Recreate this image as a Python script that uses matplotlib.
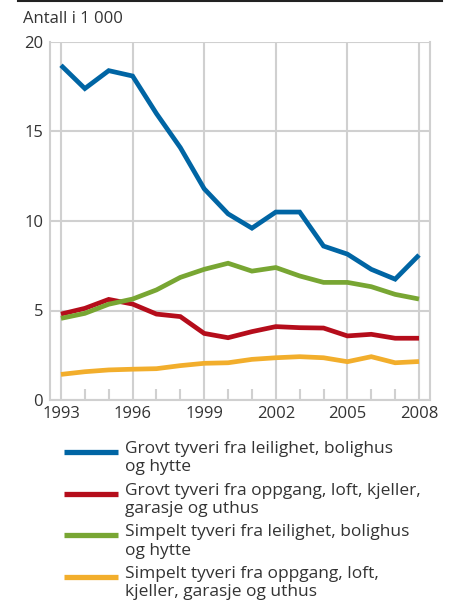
import matplotlib
matplotlib.use("Agg")
import matplotlib.pyplot as plt
from matplotlib.lines import Line2D

years = list(range(1993, 2009))

grovt_bolig = [18.7, 17.4, 18.4, 18.1, 16.0, 14.1, 11.8, 10.4, 9.6, 10.5, 10.5, 8.6, 8.15, 7.3, 6.75, 8.1]
grovt_oppgang = [4.8, 5.12, 5.62, 5.36, 4.8, 4.66, 3.72, 3.48, 3.82, 4.1, 4.04, 4.02, 3.58, 3.67, 3.45, 3.45]
simpelt_bolig = [4.56, 4.84, 5.35, 5.64, 6.15, 6.85, 7.3, 7.64, 7.2, 7.4, 6.93, 6.57, 6.57, 6.33, 5.9, 5.64]
simpelt_oppgang = [1.43, 1.58, 1.68, 1.72, 1.75, 1.92, 2.05, 2.08, 2.27, 2.36, 2.42, 2.36, 2.14, 2.42, 2.08, 2.15]

labels = [
    "Grovt tyveri fra leilighet, bolighus\nog hytte",
    "Grovt tyveri fra oppgang, loft, kjeller,\ngarasje og uthus",
    "Simpelt tyveri fra leilighet, bolighus\nog hytte",
    "Simpelt tyveri fra oppgang, loft,\nkjeller, garasje og uthus",
]
colors = ["#0065a4", "#b50d1b", "#78a633", "#f2ae2c"]
series = [grovt_bolig, grovt_oppgang, simpelt_bolig, simpelt_oppgang]

xticks = [1993, 1996, 1999, 2002, 2005, 2008]
yticks = [0, 5, 10, 15, 20]

plt.rcParams['font.family'] = ['Open Sans', 'DejaVu Sans']
txt = "#333333"
grid = "#d0d0d0"

W, H = 450, 605
fig = plt.figure(figsize=(W / 100, H / 100), dpi=100)
ax = fig.add_axes([50 / W, 1 - 400 / H, 380 / W, 358 / H])

for vals, c in zip(series, colors):
    ax.plot(years, vals, color=c, lw=3.4, solid_capstyle='butt', solid_joinstyle='miter', zorder=3)

ax.set_xlim(1992.54, 2008.46)
ax.set_ylim(0, 20)
ax.set_xticks(xticks)
ax.set_yticks(yticks)
ax.set_xticks(years, minor=True)
ax.grid(True, color=grid, lw=1.5, zorder=0)
ax.tick_params(axis='both', which='major', length=0, labelsize=12, colors=txt, pad=5)
ax.tick_params(axis='x', which='minor', direction='in', length=8, width=1.5, color=grid)
ax.tick_params(axis='x', which='major', pad=4)
for s in ['left', 'bottom', 'right']:
    ax.spines[s].set_color(grid)
    ax.spines[s].set_linewidth(1.5)
ax.spines['top'].set_visible(False)

# black rule on top
fig.add_artist(Line2D([18 / W, 442 / W], [1 - 1 / H, 1 - 1 / H], color='#222222', lw=1.5))
fig.text(23 / W, 1 - 19 / H, "Antall i 1 000", fontsize=12, color=txt, va='center', ha='left')

# legend
for i, (lab, c) in enumerate(zip(labels, colors)):
    yc = 1 - (452 + i * 41.7) / H
    fig.add_artist(Line2D([64 / W, 118 / W], [yc, yc], color=c, lw=3.8, solid_capstyle='butt'))
    fig.text(125 / W, yc + 11 / H, lab, fontsize=12.5, color=txt, va='top', ha='left', linespacing=1.2)

fig.savefig("out.png", dpi=100)
